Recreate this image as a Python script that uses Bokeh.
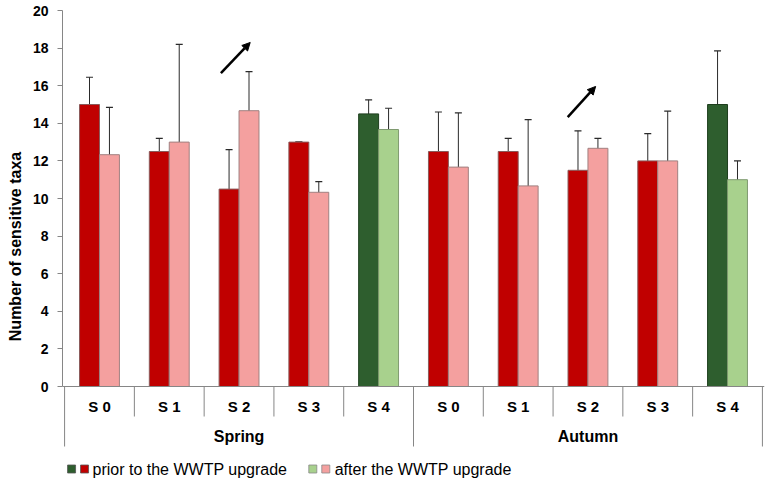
from bokeh.plotting import figure
from bokeh.models import (ColumnDataSource, FactorRange, Whisker, TeeHead, Arrow,
                          NormalHead, Span)
from bokeh.transform import dodge
from bokeh.core.properties import value
from bokeh.embed import file_html
from bokeh.resources import INLINE

# ---------------- data ----------------
seasons = ["Spring", "Autumn"]
sites = ["S 0", "S 1", "S 2", "S 3", "S 4"]
prior_mean = [15.0, 12.5, 10.5, 13.0, 14.5, 12.5, 12.5, 11.5, 12.0, 15.0]
prior_upper = [16.45, 13.2, 12.6, 13.0, 15.25, 14.6, 13.2, 13.6, 13.45, 17.85]
prior_lower = [13.6, 11.8, 8.4, 13.0, 13.8, 10.4, 11.8, 9.4, 10.6, 12.2]
after_mean = [12.33, 13.0, 14.67, 10.33, 13.67, 11.67, 10.67, 12.67, 12.0, 11.0]
after_upper = [14.85, 18.2, 16.75, 10.9, 14.8, 14.55, 14.2, 13.2, 14.65, 12.0]
after_lower = [9.8, 7.8, 12.6, 9.8, 12.55, 8.8, 7.15, 12.1, 9.35, 10.0]
legend_labels = ["prior to the WWTP upgrade", "after the WWTP upgrade"]
y_title = "Number of sensitive taxa"
y_ticks = [0, 2, 4, 6, 8, 10, 12, 14, 16, 18, 20]
# trend arrows (data coordinates: category units, taxa)
arrow_x_start = [2.24, 7.21]
arrow_y_start = [16.67, 14.33]
arrow_x_end = [2.66, 7.61]
arrow_y_end = [18.3, 15.96]

# ---------------- styles ----------------
RED, PINK = "#C00000", "#F4A09F"
DGREEN, LGREEN = "#2E5E2E", "#A8D18D"
FONT = value("Liberation Sans")
GRAY = "#868686"

factors = [(s, site) for s in seasons for site in sites]
is_ref = [site == "S 4" for (_, site) in factors]

src_prior = ColumnDataSource(dict(
    x=factors, top=prior_mean, up=prior_upper, lo=prior_lower,
    color=[DGREEN if r else RED for r in is_ref],
    line=["#1E3E1E" if r else "#8A5A5A" for r in is_ref]))
src_after = ColumnDataSource(dict(
    x=factors, top=after_mean, up=after_upper, lo=after_lower,
    color=[LGREEN if r else PINK for r in is_ref],
    line=["#7F9A70" if r else "#A08080" for r in is_ref]))

x_range = FactorRange(*factors, factor_padding=0, group_padding=0,
                      subgroup_padding=0, range_padding=0.03,
                      range_padding_units="absolute")

px_per_unit = 18.8
y_bottom = -96 / px_per_unit

p = figure(width=766, height=482, x_range=x_range, y_range=(y_bottom, 20),
           output_backend="svg", toolbar_location=None,
           min_border_left=62, min_border_right=2, min_border_top=10,
           min_border_bottom=0)
p.xaxis.visible = False
p.xgrid.visible = False
p.ygrid.visible = False
p.outline_line_color = None
p.background_fill_color = "white"
p.border_fill_color = "white"

ya = p.yaxis[0]
ya.bounds = (0, 20)
ya.ticker = y_ticks
ya.minor_tick_line_color = None
ya.major_tick_in = 0
ya.major_tick_out = 5
ya.axis_line_color = GRAY
ya.major_tick_line_color = GRAY
ya.major_label_text_font = "Liberation Sans"
ya.major_label_text_font_style = "bold"
ya.major_label_text_font_size = "14px"
ya.major_label_text_color = "black"
ya.major_label_standoff = 9
ya.axis_label = y_title
ya.axis_label_text_font = "Liberation Sans"
ya.axis_label_text_font_style = "bold"
ya.axis_label_text_font_size = "16px"
ya.axis_label_text_color = "black"
ya.axis_label_standoff = 6

bw = 20 / 70
p.vbar(x=dodge("x", -bw / 2, range=x_range), top="top", bottom=0, width=bw,
       source=src_prior, fill_color="color", line_color="line", line_width=1)
p.vbar(x=dodge("x", bw / 2, range=x_range), top="top", bottom=0, width=bw,
       source=src_after, fill_color="color", line_color="line", line_width=1)

for src, off in ((src_prior, -bw / 2), (src_after, bw / 2)):
    w = Whisker(base=dodge("x", off, range=x_range), upper="up", lower="lo",
                source=src, line_color="#2A2A2A", line_width=1,
                upper_head=TeeHead(size=7, line_color="#2A2A2A", line_width=1.2),
                lower_head=TeeHead(size=7, line_color="#2A2A2A", line_width=1.2))
    p.add_layout(w)

# x axis line
p.add_layout(Span(location=0, dimension="width", line_color=GRAY, line_width=1))

# category separators
n = len(factors)
short_b = [i for i in range(1, n) if i % len(sites) != 0]
long_b = [i for i in range(0, n + 1) if i % len(sites) == 0]
p.segment(x0=short_b, y0=0, x1=short_b, y1=-30 / px_per_unit,
          line_color=GRAY, line_width=1)
p.segment(x0=long_b, y0=0, x1=long_b, y1=-60 / px_per_unit,
          line_color=GRAY, line_width=1)

# category labels
p.text(x=factors, y=-20 / px_per_unit, text=[s for (_, s) in factors],
       text_font=FONT, text_font_style="bold", text_font_size="15px",
       text_align="center", text_baseline="middle", text_color="black")
p.text(x=seasons, y=-50 / px_per_unit, text=seasons,
       text_font=FONT, text_font_style="bold", text_font_size="16px",
       text_align="center", text_baseline="middle", text_color="black")

# arrows
for xs, ys, xe, ye in zip(arrow_x_start, arrow_y_start, arrow_x_end, arrow_y_end):
    p.add_layout(Arrow(x_start=xs, y_start=ys, x_end=xe, y_end=ye,
                       line_color="black", line_width=2.5,
                       end=NormalHead(size=8, fill_color="black",
                                      line_color="black", line_width=1)))

# legend (manual, two swatches per entry)
leg_y = -82.5 / px_per_unit
p.scatter(x=[0.10, 0.286], y=leg_y, marker="square", size=8,
          fill_color=[DGREEN, RED], line_color="#555555", line_width=0.8)
p.scatter(x=[3.557, 3.743], y=leg_y, marker="square", size=8,
          fill_color=[LGREEN, PINK], line_color="#888888", line_width=0.8)
p.text(x=[0.40, 3.871], y=leg_y, text=legend_labels, text_font=FONT,
       text_font_size="16px", text_align="left", text_baseline="middle",
       text_color="black")

open("out.html", "w").write(file_html(p, INLINE))
